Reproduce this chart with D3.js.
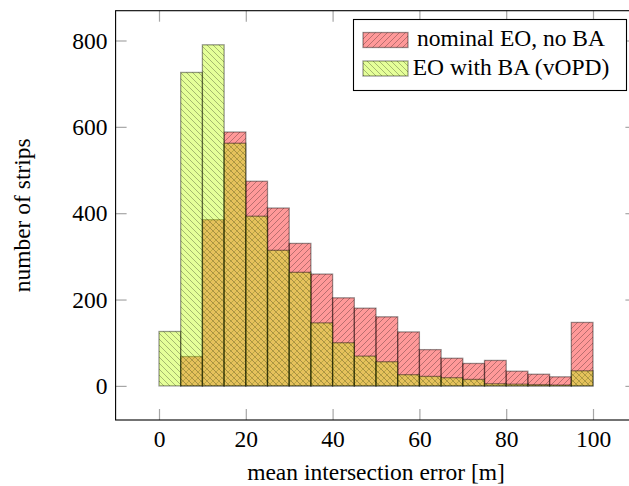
<!DOCTYPE html>
<html>
<head>
<meta charset="utf-8">
<script src="https://cdn.jsdelivr.net/npm/d3@7"></script>
<style>
  body { margin: 0; background: #fff; }
  svg { display: block; }
  text { font-family: "Liberation Serif", "Times New Roman", serif; }
</style>
</head>
<body>
<svg id="chart" width="629" height="486"></svg>
<script>
// Histogram bins (left edges, bin width 5 m)
const binStarts = [0, 5, 10, 15, 20, 25, 30, 35, 40, 45, 50, 55, 60, 65, 70, 75, 80, 85, 90, 95];
const binWidth = 5;

// Strip counts per bin
const nominalNoBA = [0, 68, 385, 588, 474, 412, 330, 259, 204, 180, 160, 125, 84, 64, 52, 59, 34, 27, 21, 147];
const withBA      = [126, 726, 790, 562, 393, 314, 263, 146, 100, 69, 56, 26, 22, 19, 15, 5, 4, 3, 2, 35];

const seriesNames = ["nominal EO, no BA", "EO with BA (vOPD)"];
const xTicks = [0, 20, 40, 60, 80, 100];
const yTicks = [0, 200, 400, 600, 800];

const series = [
  { name: seriesNames[0], values: nominalNoBA, color: "#ff0000", hatch: "hatch-ne" },
  { name: seriesNames[1], values: withBA,      color: "#bfff00", hatch: "hatch-nw" }
];

const frame = { left: 115.6, right: 636.4, top: 10.7, bottom: 420 };
const FONT = "23.5px";

const x = d3.scaleLinear().domain([-10, 110]).range([frame.left, frame.right]);
const y = d3.scaleLinear().domain([-79, 869]).range([frame.bottom, frame.top]);

const svg = d3.select("#chart");
const defs = svg.append("defs");

// Diagonal line patterns: "/" for north east, "\" for north west
function addHatch(id, dir) {
  const s = 6;
  const p = defs.append("pattern")
    .attr("id", id)
    .attr("patternUnits", "userSpaceOnUse")
    .attr("width", s).attr("height", s);
  const segs = dir === "ne"
    ? [[-1, 1, 1, -1], [0, s, s, 0], [s - 1, s + 1, s + 1, s - 1]]
    : [[-1, s - 1, 1, s + 1], [0, 0, s, s], [s - 1, -1, s + 1, 1]];
  segs.forEach(d => p.append("line")
    .attr("x1", d[0]).attr("y1", d[1]).attr("x2", d[2]).attr("y2", d[3])
    .attr("stroke", "#000").attr("stroke-width", 0.8).attr("stroke-opacity", 0.35));
}
addHatch("hatch-ne", "ne");
addHatch("hatch-nw", "nw");

// Draw a translucent hatched box (used by bars and legend swatches)
function hatchedBox(sel, s) {
  sel.append("rect").attr("class", "fill")
    .attr("fill", s.color).attr("fill-opacity", 0.4);
  sel.append("rect").attr("class", "pat")
    .attr("fill", `url(#${s.hatch})`);
  sel.append("rect").attr("class", "edge")
    .attr("fill", "none").attr("stroke", "#000")
    .attr("stroke-opacity", 0.4).attr("stroke-width", 1.3);
}

// Bars
series.forEach(s => {
  const g = svg.append("g");
  const bars = g.selectAll("g.bar")
    .data(binStarts.map((b, i) => ({ x0: b, x1: b + binWidth, v: s.values[i] })))
    .join("g").attr("class", "bar");
  bars.each(function () { hatchedBox(d3.select(this), s); });
  bars.selectAll("rect")
    .attr("x", function () { return x(d3.select(this.parentNode).datum().x0); })
    .attr("width", function () { const d = d3.select(this.parentNode).datum(); return x(d.x1) - x(d.x0); })
    .attr("y", function () { return y(d3.select(this.parentNode).datum().v); })
    .attr("height", function () { return y(0) - y(d3.select(this.parentNode).datum().v); });
});

// Axes: ticks point inward on all four sides
function styleAxis(g) {
  g.select(".domain").remove();
  g.selectAll(".tick line").attr("stroke", "#a6a6a6").attr("stroke-width", 1.2);
  g.selectAll(".tick text").attr("fill", "#000").style("font-size", FONT)
    .style("font-family", '"Liberation Serif", "Times New Roman", serif');
}
svg.append("g").attr("transform", `translate(0,${frame.bottom})`)
  .call(d3.axisBottom(x).tickValues(xTicks).tickSize(-11).tickPadding(10))
  .call(styleAxis);
svg.append("g").attr("transform", `translate(0,${frame.top})`)
  .call(d3.axisTop(x).tickValues(xTicks).tickSize(-11).tickFormat(""))
  .call(styleAxis);
svg.append("g").attr("transform", `translate(${frame.left},0)`)
  .call(d3.axisLeft(y).tickValues(yTicks).tickSize(-11).tickPadding(8))
  .call(styleAxis);
svg.append("g").attr("transform", `translate(${frame.right},0)`)
  .call(d3.axisRight(y).tickValues(yTicks).tickSize(-11).tickFormat(""))
  .call(styleAxis);

// Frame
svg.append("rect")
  .attr("x", frame.left).attr("y", frame.top)
  .attr("width", frame.right - frame.left).attr("height", frame.bottom - frame.top)
  .attr("fill", "none").attr("stroke", "#000").attr("stroke-width", 1.1);

// Axis titles
svg.append("text")
  .attr("x", (frame.left + frame.right) / 2).attr("y", 480)
  .attr("text-anchor", "middle").style("font-size", FONT)
  .text("mean intersection error [m]");
svg.append("text")
  .attr("transform", `translate(30,${(frame.top + frame.bottom) / 2}) rotate(-90)`)
  .attr("text-anchor", "middle").style("font-size", FONT)
  .text("number of strips");

// Legend
const legend = svg.append("g");
legend.append("rect")
  .attr("x", 353.5).attr("y", 19.5).attr("width", 273).attr("height", 71)
  .attr("fill", "#fff").attr("stroke", "#000").attr("stroke-width", 1.1);
const rowY = [32.5, 61];
const textY = [46, 74.5];
series.forEach((s, i) => {
  const sw = legend.append("g");
  hatchedBox(sw, s);
  sw.selectAll("rect").attr("x", 363).attr("y", rowY[i]).attr("width", 45).attr("height", 15);
  legend.append("text")
    .attr("x", 511).attr("y", textY[i])
    .attr("text-anchor", "middle").style("font-size", FONT)
    .text(s.name);
});
</script>
</body>
</html>
